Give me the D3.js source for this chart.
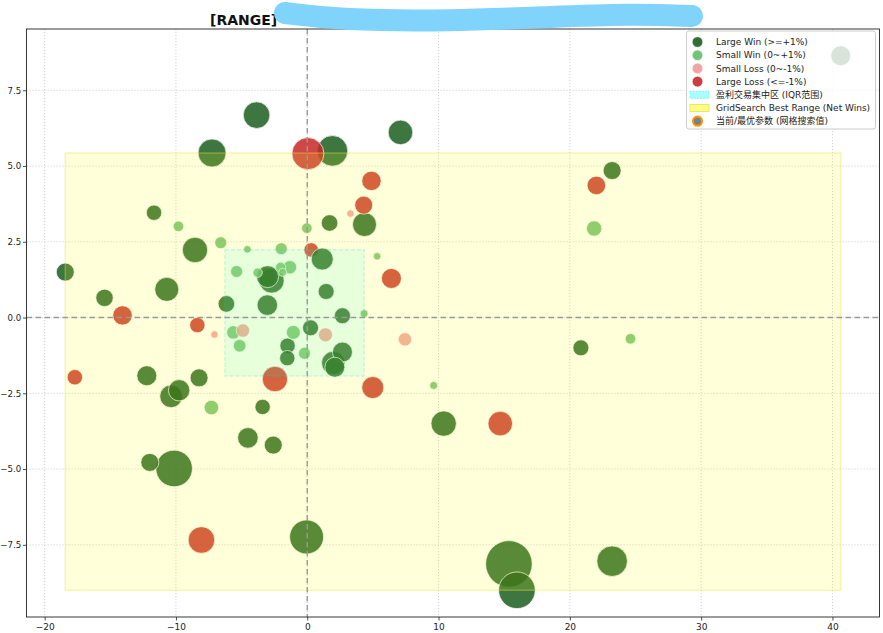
<!DOCTYPE html>
<html><head><meta charset="utf-8">
<script src="https://cdn.jsdelivr.net/npm/d3@7"></script>
<style>
html,body{margin:0;padding:0;background:#fff;}
text{font-family:"DejaVu Sans","Noto Sans CJK SC",sans-serif;}
</style></head>
<body><svg id="chart" width="883" height="633"></svg>
<script>
// ---- data (draw order) ----
const xs = [15.36,-10.14,15.97,-0.05,23.22,1.92,0.05,-7.25,-3.86,-8.06,
 -8.55,-2.46,10.39,-3.10,0.30,-2.71,7.10,14.70,4.36,-10.70,
 1.98,-10.37,1.14,-3.02,4.99,-9.76,-3.04,-4.52,40.63,6.41,
 2.68,2.10,-12.22,4.89,-14.07,22.02,23.22,-18.43,-8.24,-2.59,
 -11.99,4.30,-15.44,1.70,-6.16,1.44,2.68,0.25,20.84,-11.67,
 21.85,-8.37,-17.70,-3.40,-1.50,-1.52,-7.30,-1.06,1.39,-1.32,
 -5.63,-4.90,7.44,-5.15,-6.59,-1.98,-5.38,-0.21,-9.81,-0.03,
 24.62,-2.03,-3.78,-1.88,4.33,9.63,3.29,-4.56,5.32,-7.07];
const ys = [-8.13,-4.98,-9.00,-7.24,-8.04,5.50,5.41,5.43,6.68,-7.34,
 2.23,-2.03,-3.50,1.35,2.23,1.22,6.11,-3.50,3.07,0.93,
 -1.50,-2.60,1.93,1.35,-2.31,-2.40,0.41,-3.97,8.64,1.29,
 -1.14,-1.64,-1.92,4.51,0.07,4.36,4.85,1.50,-1.99,-4.21,
 -4.78,3.71,0.65,3.12,0.45,0.86,0.06,-0.34,-1.00,3.46,
 2.94,-0.25,-1.97,-2.95,-0.93,-1.34,-2.97,-0.49,-0.57,1.66,
 -0.49,-0.43,-0.72,-0.93,2.47,2.27,1.52,-1.18,3.01,2.95,
 -0.70,1.66,1.48,1.49,0.13,-2.24,3.43,2.25,2.02,-0.56];
const sizes = [543,335,335,289,234,234,256,196,177,177,
 161,161,161,81,53,156,151,151,144,144,
 137,128,121,121,121,114,106,106,100,100,
 100,100,100,94,94,86,81,81,81,81,
 81,81,76,69,69,64,64,64,64,59,
 59,59,59,59,59,59,53,49,49,45,
 45,45,45,40,36,36,36,36,28,28,
 28,25,22,16,16,16,14,14,14,14];
const cats = ["LW","LW","LW","LW","LW","LW","LL","LW","LW","LL",
 "LW","LL","LW","LL","LL","LW","LW","LL","LW","LW",
 "LW","LW","LW","LW","LL","LW","LW","LW","LW","LL",
 "LW","LW","LW","LL","LL","LL","LW","LW","LW","LW",
 "LW","LL","LW","LW","LW","LW","LW","LW","LW","LW",
 "SW","LL","LL","LW","LW","LW","SW","SW","SL","SW",
 "SW","SL","SL","SW","SW","SW","SW","SW","SW","SW",
 "SW","SW","SW","SW","SW","SW","SL","SW","SW","SL"];
const catKeys = ["LW","SW","SL","LL"];
const catLabels = ["Large Win (>=+1%)","Small Win (0~+1%)","Small Loss (0~-1%)","Large Loss (<=-1%)"];
const catColors = ["#1b5e20","#66bb6a","#ef9a9a","#c62828"];
const bestRangeX = [-18.43, 40.63];
const bestRangeY = [-9.00, 5.43];
const iqrX = [-6.27, 4.33];
const iqrY = [-1.93, 2.24];
const xTicks = [-20,-10,0,10,20,30,40];
const yTicks = [-7.5,-5,-2.5,0,2.5,5,7.5];
const legendExtra = ["盈利交易集中区 (IQR范围)","GridSearch Best Range (Net Wins)","当前/最优参数 (网格搜索值)"];
const titleText = "[RANGE]";
const redactPts = [[285,13],[340,20],[450,21],[550,17],[630,14],[692,16]];

// ---- layout ----
const svg = d3.select("#chart");
const L = 26.5, R = 879.5, T = 29, B = 617;
const pad = (ext) => { const d = ext[1]-ext[0]; return [ext[0]-0.05*d, ext[1]+0.05*d]; };
const x = d3.scaleLinear().domain(pad(d3.extent(xs))).range([L, R]);
const y = d3.scaleLinear().domain(pad(d3.extent(ys))).range([B, T]);
const rScale = d3.scaleSqrt().domain([0, d3.max(sizes)]).range([0, Math.sqrt(d3.max(sizes))]);
const color = d3.scaleOrdinal().domain(catKeys).range(catColors);
const minus = s => s.replace(/-/g, "\u2212");

const defs = svg.append("defs");
defs.append("clipPath").attr("id","clip").append("rect")
  .attr("x",L).attr("y",T).attr("width",R-L).attr("height",B-T);

// grid
const grid = svg.append("g").attr("clip-path","url(#clip)");
grid.selectAll("line.gx").data(xTicks).join("line")
  .attr("x1",d=>x(d)).attr("x2",d=>x(d)).attr("y1",T).attr("y2",B)
  .attr("stroke","#c8c8c8").attr("stroke-width",0.8).attr("stroke-dasharray","1.2,1.8");
grid.selectAll("line.gy").data(yTicks).join("line")
  .attr("y1",d=>y(d)).attr("y2",d=>y(d)).attr("x1",L).attr("x2",R)
  .attr("stroke","#c8c8c8").attr("stroke-width",0.8).attr("stroke-dasharray","1.2,1.8");

// points
const pts = xs.map((v,i)=>({x:v,y:ys[i],s:sizes[i],c:cats[i]}));
svg.append("g").attr("clip-path","url(#clip)").selectAll("circle").data(pts).join("circle")
  .attr("cx",d=>x(d.x)).attr("cy",d=>y(d.y)).attr("r",d=>rScale(d.s))
  .attr("fill",d=>color(d.c)).attr("fill-opacity",0.85)
  .attr("stroke","#fff").attr("stroke-width",0.7);

// best range (yellow)
svg.append("rect")
  .attr("x",x(bestRangeX[0])).attr("y",y(bestRangeY[1]))
  .attr("width",x(bestRangeX[1])-x(bestRangeX[0])).attr("height",y(bestRangeY[0])-y(bestRangeY[1]))
  .attr("fill","#ffff00").attr("fill-opacity",0.15)
  .attr("stroke","#f2e040").attr("stroke-opacity",0.35).attr("stroke-width",1.5);
// IQR (cyan)
svg.append("rect")
  .attr("x",x(iqrX[0])).attr("y",y(iqrY[1]))
  .attr("width",x(iqrX[1])-x(iqrX[0])).attr("height",y(iqrY[0])-y(iqrY[1]))
  .attr("fill","#00ffff").attr("fill-opacity",0.09)
  .attr("stroke","#00e0e0").attr("stroke-opacity",0.2).attr("stroke-width",1.5)
  .attr("stroke-dasharray","4,2");

// zero lines
svg.append("line").attr("x1",x(0)).attr("x2",x(0)).attr("y1",T).attr("y2",B)
  .attr("stroke","#999").attr("stroke-width",1.4).attr("stroke-dasharray","5.5,3.5");
svg.append("line").attr("y1",y(0)).attr("y2",y(0)).attr("x1",L).attr("x2",R)
  .attr("stroke","#999").attr("stroke-width",1.4).attr("stroke-dasharray","5.5,3.5");

// axes
const xAxis = d3.axisBottom(x).tickValues(xTicks).tickSize(3.5).tickPadding(3).tickFormat(d=>minus(d3.format("d")(d)));
const yAxis = d3.axisLeft(y).tickValues(yTicks).tickSize(3.5).tickPadding(1.8).tickFormat(d=>minus(d3.format(".1f")(d)));
const gx = svg.append("g").attr("transform",`translate(0,${B})`).call(xAxis);
const gy = svg.append("g").attr("transform",`translate(${L},0)`).call(yAxis);
[gx,gy].forEach(g=>{
  g.select(".domain").remove();
  g.selectAll(".tick line").attr("stroke","#222").attr("stroke-width",0.8);
  g.selectAll(".tick text").attr("fill","#222").style("font-family","DejaVu Sans");
});
gx.selectAll(".tick text").style("font-size","9px");
gy.selectAll(".tick text").style("font-size","8.6px");
svg.append("rect").attr("x",L).attr("y",T).attr("width",R-L).attr("height",B-T)
  .attr("fill","none").attr("stroke","#222").attr("stroke-width",0.9);

// legend
const lg = svg.append("g");
lg.append("rect").attr("x",686.5).attr("y",31).attr("width",189).attr("height",98).attr("rx",2.5)
  .attr("fill","#fff").attr("fill-opacity",0.8).attr("stroke","#cccccc");
const ly = i => 42 + 13.2*i;
catKeys.forEach((k,i)=>{
  lg.append("circle").attr("cx",697.5).attr("cy",ly(i)).attr("r",5.3)
    .attr("fill",color(k)).attr("fill-opacity",0.9).attr("stroke","#fff").attr("stroke-width",0.6);
  lg.append("text").attr("x",716).attr("y",ly(i)).attr("dy","0.35em")
    .style("font-size","9px").attr("fill","#222").text(catLabels[i]);
});
lg.append("rect").attr("x",690).attr("y",ly(4)-3.5).attr("width",19).attr("height",7)
  .attr("fill","#aaffff").attr("stroke","#7ff0f0").attr("stroke-width",0.8).attr("stroke-dasharray","2,1");
lg.append("rect").attr("x",690).attr("y",ly(5)-3.5).attr("width",19).attr("height",7)
  .attr("fill","#ffff80").attr("stroke","#eedd55").attr("stroke-width",0.8);
lg.append("circle").attr("cx",697.5).attr("cy",ly(6)).attr("r",4.6)
  .attr("fill","#808080").attr("stroke","#ff9800").attr("stroke-width",2);
legendExtra.forEach((t,i)=>{
  lg.append("text").attr("x",716).attr("y",ly(4+i)).attr("dy","0.35em")
    .style("font-size","9px").attr("fill","#222").text(t);
});

// title
svg.append("text").attr("x",210).attr("y",24.5).style("font-size","14px").style("font-weight","bold")
  .attr("fill","#111").text(titleText);
svg.append("path").attr("d", d3.line().curve(d3.curveBasis)(redactPts))
  .attr("fill","none").attr("stroke","#80d4fc").attr("stroke-width",22).attr("stroke-linecap","round");
</script></body></html>
